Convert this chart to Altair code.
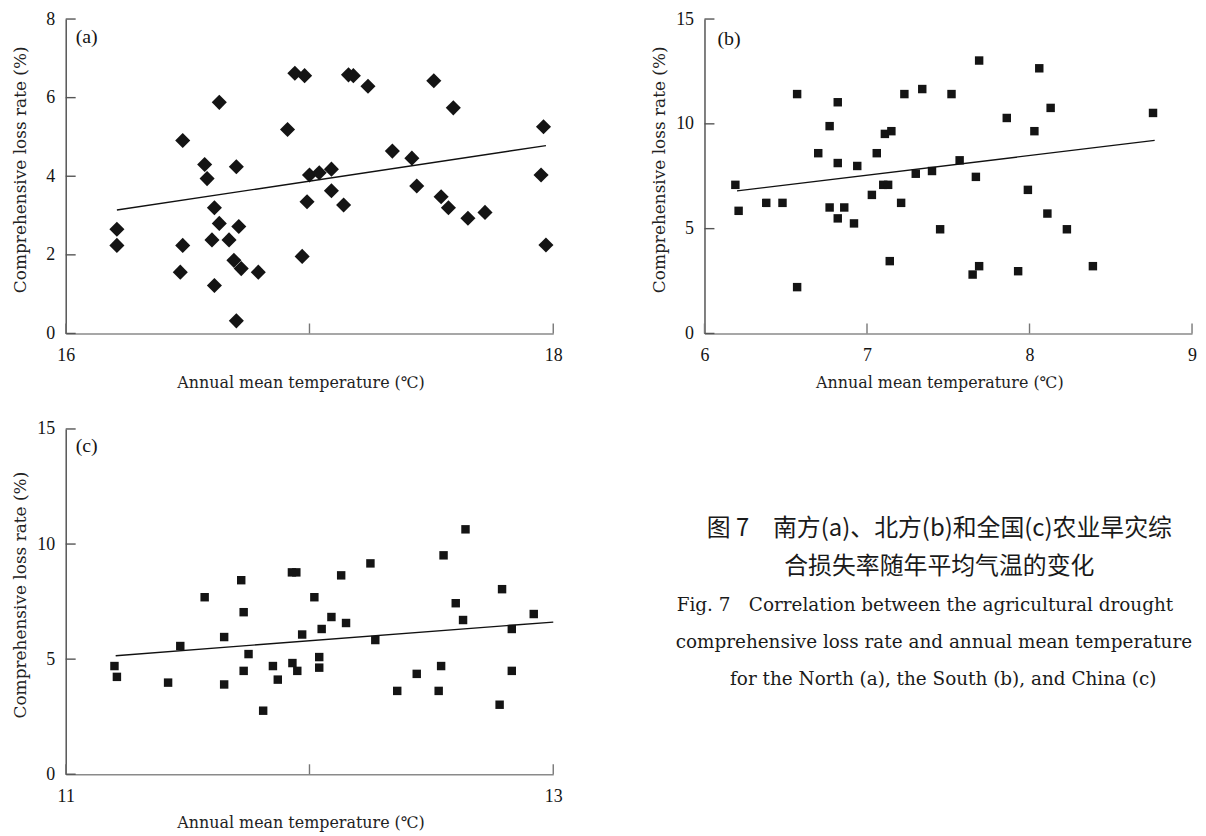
import altair as alt
import pandas as pd

# ---------------- data ----------------
# (a) North
a_temp = [16.21, 16.21, 16.48, 16.48, 16.47, 16.57, 16.58, 16.63, 16.61, 16.63, 16.60, 16.67,
          16.70, 16.71, 16.69, 16.72, 16.61, 16.79, 16.70, 16.91, 16.94, 16.98, 16.97, 17.00,
          17.04, 17.09, 16.99, 17.09, 17.14, 17.16, 17.18, 17.24, 17.34, 17.42, 17.44, 17.51,
          17.59, 17.54, 17.57, 17.65, 17.72, 17.96, 17.95, 17.97]
a_loss = [2.65, 2.24, 4.91, 2.24, 1.56, 4.30, 3.94, 5.88, 3.20, 2.80, 2.38, 2.38,
          4.24, 2.72, 1.86, 1.65, 1.22, 1.56, 0.32, 5.19, 6.62, 6.56, 1.96, 4.03,
          4.09, 4.18, 3.35, 3.63, 3.27, 6.58, 6.56, 6.29, 4.64, 4.46, 3.75, 6.43,
          5.74, 3.48, 3.20, 2.93, 3.08, 5.26, 4.03, 2.25]
a_fit_temp = [16.21, 17.97]
a_fit_loss = [3.14, 4.78]

# (b) South
b_temp = [6.19, 6.21, 6.38, 6.48, 6.57, 6.57, 6.70, 6.77, 6.77, 6.82, 6.82, 6.82,
          6.86, 6.94, 6.92, 7.03, 7.06, 7.11, 7.15, 7.10, 7.13, 7.14, 7.23, 7.21,
          7.30, 7.34, 7.40, 7.52, 7.57, 7.45, 7.69, 7.67, 7.69, 7.65, 7.86, 7.93,
          7.99, 8.03, 8.06, 8.13, 8.11, 8.23, 8.39, 8.76]
b_loss = [7.09, 5.85, 6.23, 6.23, 11.42, 2.21, 8.60, 9.89, 6.01, 11.03, 8.13, 5.49,
          6.01, 7.99, 5.25, 6.61, 8.60, 9.52, 9.65, 7.09, 7.09, 3.45, 11.42, 6.23,
          7.62, 11.66, 7.75, 11.42, 8.26, 4.97, 13.02, 7.47, 3.21, 2.81, 10.28, 2.97,
          6.85, 9.65, 12.65, 10.76, 5.72, 4.97, 3.21, 10.52]
b_fit_temp = [6.20, 8.77]
b_fit_loss = [6.80, 9.21]

# (c) China
c_temp = [11.20, 11.21, 11.42, 11.47, 11.57, 11.65, 11.65, 11.72, 11.73, 11.75, 11.73, 11.85,
          11.87, 11.81, 11.928, 11.946, 11.93, 11.95, 11.97, 12.02, 12.04, 12.04, 12.05, 12.09,
          12.13, 12.15, 12.25, 12.27, 12.36, 12.44, 12.53, 12.54, 12.55, 12.64, 12.60, 12.63,
          12.78, 12.79, 12.83, 12.83, 12.92]
c_loss = [4.70, 4.23, 3.98, 5.57, 7.69, 5.96, 3.90, 8.43, 7.04, 5.22, 4.49, 4.70,
          4.11, 2.76, 8.77, 8.77, 4.83, 4.49, 6.07, 7.69, 5.09, 4.63, 6.31, 6.83,
          8.64, 6.57, 9.16, 5.83, 3.62, 4.36, 3.62, 4.70, 9.51, 10.64, 7.43, 6.70,
          3.02, 8.04, 6.31, 4.49, 6.96]
c_fit_temp = [11.205, 13.0]
c_fit_loss = [5.15, 6.61]

a_xticks = [16, 17, 18]
a_yticks = [0, 2, 4, 6, 8]
b_xticks = [6, 7, 8, 9]
b_yticks = [0, 5, 10, 15]
c_xticks = [11, 12, 13]
c_yticks = [0, 5, 10, 15]

x_title = "Annual mean temperature (℃)"
y_title = "Comprehensive loss rate (%)"

caption_lines = [
    "图 7\u3000南方(a)、北方(b)和全国(c)农业旱灾综",
    "合损失率随年平均气温的变化",
    "Fig. 7\u2003Correlation between the agricultural drought",
    "comprehensive loss rate and annual mean temperature",
    "for the North (a), the South (b), and China (c)",
]

# ---------------- style ----------------
NUM_FONT = "Liberation Serif"
TXT_FONT = "DejaVu Serif"
CJK_FONT = "Noto Sans CJK SC"
INK = "#141414"
W, H1, H2 = 490, 316, 347
CAP_W = 520


def panel(xs, ys, fx, fy, xdom, ydom, xticks, yticks, shape, size, label, h, lx, ly):
    xscale = alt.Scale(domain=xdom, nice=False, zero=False)
    yscale = alt.Scale(domain=ydom, nice=False, zero=False)
    xaxis = alt.Axis(values=xticks, title=x_title, grid=False, ticks=False, tickSize=0,
                     domainColor="#8a8a8a", domainWidth=1.5, format="d",
                     labelOverlap=False, labelFlush=False,
                     labelFont=NUM_FONT, labelFontSize=18, labelColor=INK, labelPadding=13,
                     titleFont=TXT_FONT, titleFontSize=16, titleFontWeight="normal",
                     titleColor="#222", titleX=W / 2 - 9, titleY=41)
    yaxis = alt.Axis(values=yticks, title=y_title, grid=False, ticks=False, tickSize=0,
                     domainColor="#555", domainWidth=1.5, format="d",
                     labelOverlap=False, labelFlush=False,
                     labelFont=NUM_FONT, labelFontSize=18, labelColor=INK, labelPadding=11,
                     titleFont=TXT_FONT, titleFontSize=17, titleFontWeight="normal",
                     titleColor="#222", titleX=-36, titleY=h / 2 - 7)
    pts = alt.Chart(pd.DataFrame({"t": xs, "r": ys})).mark_point(
        shape=shape, size=size, filled=True, color=INK, opacity=1
    ).encode(
        x=alt.X("t:Q", scale=xscale, axis=xaxis),
        y=alt.Y("r:Q", scale=yscale, axis=yaxis),
    )
    fit = alt.Chart(pd.DataFrame({"t": fx, "r": fy})).mark_line(
        color="#111", strokeWidth=1.4
    ).encode(x="t:Q", y="r:Q")
    ytk = alt.Chart(pd.DataFrame({"r": yticks})).mark_rule(
        color="#555", strokeWidth=1.4
    ).encode(y="r:Q", x=alt.value(0), x2=alt.value(10))
    xtk = alt.Chart(pd.DataFrame({"t": xticks})).mark_rule(
        color="#777", strokeWidth=1.4
    ).encode(x="t:Q", y=alt.value(h), y2=alt.value(h - 10))
    lab = alt.Chart(pd.DataFrame({"s": [label]})).mark_text(
        align="left", baseline="middle", font=NUM_FONT, fontSize=20, color=INK
    ).encode(text="s:N", x=alt.value(lx), y=alt.value(ly))
    return alt.layer(pts, fit, ytk, xtk, lab).properties(width=W, height=h)


pa = panel(a_temp, a_loss, a_fit_temp, a_fit_loss, [16, 18], [0, 8], a_xticks, a_yticks,
           "diamond", 230, "(a)", H1, 10, 18)
pb = panel(b_temp, b_loss, b_fit_temp, b_fit_loss, [6, 9], [0, 15], b_xticks, b_yticks,
           "square", 72, "(b)", H1, 13, 20)
pc = panel(c_temp, c_loss, c_fit_temp, c_fit_loss, [11, 13], [0, 15], c_xticks, c_yticks,
           "square", 72, "(c)", H2, 10, 17)

# caption panel (placed right of panel c)
cap_specs = [
    (caption_lines[0], CJK_FONT, 24, "center", 260, 101),
    (caption_lines[1], CJK_FONT, 24, "center", 260, 139),
    (caption_lines[2], TXT_FONT, 18.5, "left", -4, 177),
    (caption_lines[3], TXT_FONT, 18.5, "left", -5, 214),
    (caption_lines[4], TXT_FONT, 18.5, "center", 264, 251),
]
cap_layers = []
for txt, font, fs, al, px, py in cap_specs:
    cap_layers.append(
        alt.Chart(pd.DataFrame({"s": [txt]})).mark_text(
            align=al, baseline="middle", font=font, fontSize=fs, color="#1a1a1a"
        ).encode(text="s:N", x=alt.value(px), y=alt.value(py))
    )
cap = alt.layer(*cap_layers).properties(width=CAP_W, height=H2)

row1 = alt.hconcat(pa, pb, spacing=152, bounds="flush")
row2 = alt.hconcat(pc, cap, spacing=128, bounds="flush")

chart = alt.vconcat(row1, row2, spacing=30).properties(
    padding={"left": 4, "top": 0, "right": 0, "bottom": 5},
    background="white",
).configure_view(stroke=None)

chart.save("out.html", embed_options={"renderer": "svg", "actions": False})
